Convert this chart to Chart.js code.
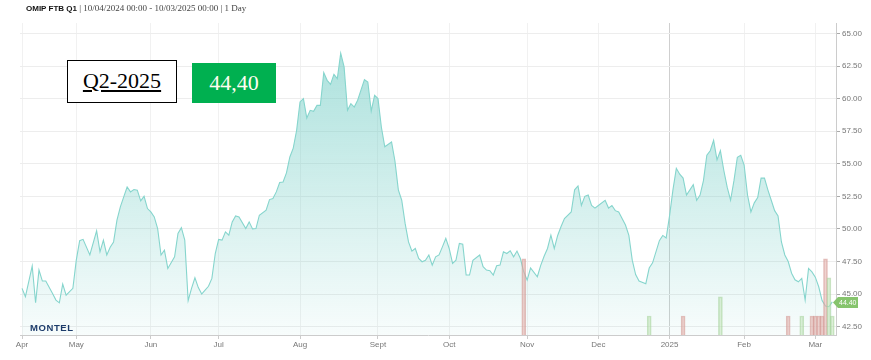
<!DOCTYPE html>
<html><head><meta charset="utf-8">
<script src="https://cdn.jsdelivr.net/npm/chart.js@4"></script>
<style>
html,body{margin:0;padding:0;background:#fff;}
#wrap{position:relative;width:871px;height:360px;overflow:hidden;}
#c{position:absolute;left:0;top:0;}
#title{position:absolute;left:26px;top:3px;font:9px 'Liberation Serif',serif;color:#444;white-space:nowrap;}
#title b{font:bold 8px 'Liberation Sans',Arial,sans-serif;color:#111;}
#q2{position:absolute;left:67px;top:60px;width:108px;height:41px;border:1px solid #000;background:#fff;font:22px 'Liberation Serif',serif;text-align:center;line-height:40px;text-decoration:underline;color:#000;}
#val{position:absolute;left:192px;top:63px;width:84px;height:40px;background:#00b050;color:#fffdf0;font:22px 'Liberation Serif',serif;text-align:center;line-height:40px;}
#logo{position:absolute;left:30px;top:322px;font:bold 9.5px 'Liberation Sans',Arial,sans-serif;color:#1d3c6b;letter-spacing:0.6px;}
</style>
</head><body>
<div id="wrap">
<canvas id="c" width="871" height="360"></canvas>
<div id="title"><b>OMIP FTB Q1</b> | 10/04/2024 00:00 - 10/03/2025 00:00 | 1 Day</div>
<div id="q2">Q2-2025</div>
<div id="val">44,40</div>
<div id="logo">MONTEL</div>
</div>
<script>
// trading-day index (weekdays since 10/04/2024) and settlement price
const priceDay = [0,1,3,4,5,6,7,9,10,11,12,13,15,16,17,18,20,22,23,24,25,26,27,28,29,30,31,32,33,34,35,36,37,38,39,40,41,42,43,45,46,47,48,49,50,51,52,53,54,55,56,57,58,59,60,61,62,63,64,66,67,68,69,70,72,73,74,75,76,77,78,79,80,81,82,83,84,85,86,87,88,89,90,91,92,93,94,95,96,97,98,99,101,102,103,104,105,106,107,109,110,111,112,113,114,115,116,117,118,119,120,121,122,123,124,125,126,127,128,129,130,131,132,133,135,136,137,138,139,140,141,142,143,144,145,146,147,148,149,150,152,153,154,155,156,157,158,159,160,162,163,164,165,166,167,168,169,170,172,173,174,175,176,178,179,180,181,182,184,185,186,188,189,190,191,192,193,194,195,196,198,199,200,201,202,203,204,205,206,207,208,209,210,211,212,213,214,215,216,217,218,219,220,221,222,223,224,225,226,227,228,229,230,231,232,233,234,235,236,237,238,239];
const priceValue = [45.44,44.8,47.15,44.33,46.84,46.0,46.0,45.05,44.54,44.33,45.77,44.92,45.44,47.6,49.1,49.2,48.0,49.85,48.24,49.14,48.0,48.6,49.0,50.67,51.69,52.46,53.22,52.84,53.02,52.97,52.15,52.5,51.56,51.3,50.92,50.03,48.0,48.37,46.97,47.86,49.65,50.1,49.14,44.49,45.44,46.25,45.5,45.0,45.3,45.6,46.2,48.11,49.19,49.14,49.77,49.52,50.54,51.0,50.92,50.03,50.54,50.0,50.03,51.05,51.44,52.25,52.33,52.84,53.56,53.6,54.3,55.52,56.2,57.57,59.74,60.0,58.51,59.1,59.02,59.48,59.48,61.99,61.4,61.09,61.86,61.53,63.49,62.43,59.1,59.61,59.35,59.87,61.45,61.27,59.04,60.25,60.0,57.8,56.3,56.67,55.2,53.0,52.2,50.42,49.0,48.3,48.5,47.73,47.48,47.6,48.0,47.22,47.86,48.0,48.62,49.27,48.5,47.35,47.6,48.88,48.83,46.46,46.46,47.6,48.0,47.1,46.84,46.79,46.46,47.17,47.22,48.24,48.11,48.32,47.86,48.3,47.73,46.71,46.07,47.0,46.33,47.2,47.9,48.5,49.52,48.5,49.5,50.18,50.8,51.3,53.0,53.3,51.8,52.5,52.6,51.8,51.6,51.8,52.2,51.6,51.8,51.4,51.3,50.3,49.5,47.6,46.5,46.0,45.8,47.0,47.4,49.1,49.5,49.3,51.0,53.0,54.65,54.2,53.9,52.6,53.4,52.2,52.6,53.7,55.65,56.0,56.8,55.3,56.0,54.5,53.2,52.2,53.7,55.5,55.65,54.9,52.6,51.3,52.0,52.4,53.9,53.9,53.0,52.2,51.4,51.0,49.0,48.0,47.5,46.6,46.1,45.94,46.2,44.54,46.97,46.7,46.3,45.56,44.5,44.08,44.03,44.40];

// traded volume bars (relative units)
const volumeDay = [148,185,195,206,226,230,233,234,235,236,237,238,239];
const volumeValue = [4,1,1,2,1,1,1,1,1,1,4,3,1];
const volumeSide = ['down','up','down','up','down','up','down','down','down','down','down','up','up'];

// axis tick labels
const monthTickDay = [0,16,38,58,82,105,126,149,170,191,213,234];
const monthTickLabel = ['Apr','May','Jun','Jul','Aug','Sept','Oct','Nov','Dec','2025','Feb','Mar'];
const yTickValues = [42.5,45,47.5,50,52.5,55,57.5,60,62.5,65];

const lastPricePlugin = {
  id: 'lastPrice',
  afterDraw(chart) {
    const ys = chart.scales.y;
    const c = chart.ctx;
    const v = priceValue[priceValue.length - 1];
    const py = Math.round(ys.getPixelForValue(v)) + 0.5;
    const x0 = chart.chartArea.right - 3;
    c.save();
    c.fillStyle = '#86c46d';
    c.beginPath();
    c.moveTo(x0, py);
    c.lineTo(x0 + 5, py - 5.5);
    c.lineTo(x0 + 25, py - 5.5);
    c.lineTo(x0 + 25, py + 5.5);
    c.lineTo(x0 + 5, py + 5.5);
    c.closePath();
    c.fill();
    c.fillStyle = '#ffffff';
    c.font = '7px "Liberation Sans", Arial, sans-serif';
    c.textBaseline = 'middle';
    c.textAlign = 'left';
    c.fillText(v.toFixed(2), x0 + 6, py + 0.5);
    c.restore();
  }
};

new Chart(document.getElementById('c'), {
  type: 'line',
  data: {
    datasets: [
      {
        type: 'bar',
        data: volumeDay.map((d, i) => ({ x: d, y: volumeValue[i] })),
        yAxisID: 'vol',
        backgroundColor: volumeSide.map(s => s === 'down' ? 'rgba(225,175,170,0.55)' : 'rgba(190,225,180,0.5)'),
        borderColor: volumeSide.map(s => s === 'down' ? 'rgba(210,150,145,0.6)' : 'rgba(165,210,155,0.6)'),
        borderWidth: 1,
        barThickness: 4,
        grouped: false,
        order: 0
      },
      {
        type: 'line',
        data: priceDay.map((d, i) => ({ x: d, y: priceValue[i] })),
        yAxisID: 'y',
        borderColor: '#86d5cd',
        borderWidth: 1.1,
        pointRadius: 0,
        tension: 0,
        fill: 'start',
        backgroundColor: (ctx) => {
          const ch = ctx.chart; const a = ch.chartArea;
          if (!a) return 'rgba(120,205,198,0.3)';
          const g = ch.ctx.createLinearGradient(0, a.top, 0, a.bottom);
          g.addColorStop(0, 'rgba(110,203,195,0.62)');
          g.addColorStop(1, 'rgba(110,203,195,0.05)');
          return g;
        },
        order: 1
      }
    ]
  },
  options: {
    animation: false,
    responsive: false,
    layout: { padding: { left: 20, top: 23, right: 0, bottom: 0 } },
    plugins: { legend: { display: false }, tooltip: { enabled: false }, title: { display: false } },
    scales: {
      x: {
        type: 'linear',
        min: -0.6,
        max: 240.1,
        offset: false,
        afterBuildTicks: (s) => { s.ticks = monthTickDay.map(v => ({ value: v })); },
        afterFit: (s) => { s.height = 25; },
        ticks: {
          callback: (v, i) => monthTickLabel[i],
          autoSkip: false, maxRotation: 0, padding: 1,
          color: '#777', font: { size: 8, family: '"Liberation Sans", Arial, sans-serif' }
        },
        grid: {
          offset: false,
          color: (ctx) => (monthTickLabel[ctx.index] === '2025' ? '#cfcfcf' : '#f1f1f1'),
          tickLength: 4,
          tickColor: '#cccccc'
        },
        border: { color: '#cccccc' }
      },
      y: {
        position: 'right',
        min: 41.86,
        max: 65.8,
        afterBuildTicks: (s) => { s.ticks = yTickValues.map(v => ({ value: v })); },
        afterFit: (s) => { s.width = 35; },
        ticks: {
          callback: (v) => Number(v).toFixed(2),
          padding: 2,
          color: '#777', font: { size: 8, family: '"Liberation Sans", Arial, sans-serif' }
        },
        grid: { color: '#ededed', tickLength: 4, tickColor: '#aaaaaa' },
        border: { color: '#cccccc' }
      },
      vol: { display: false, min: 0, max: 16.4 }
    }
  },
  plugins: [lastPricePlugin]
});
</script>
</body></html>
